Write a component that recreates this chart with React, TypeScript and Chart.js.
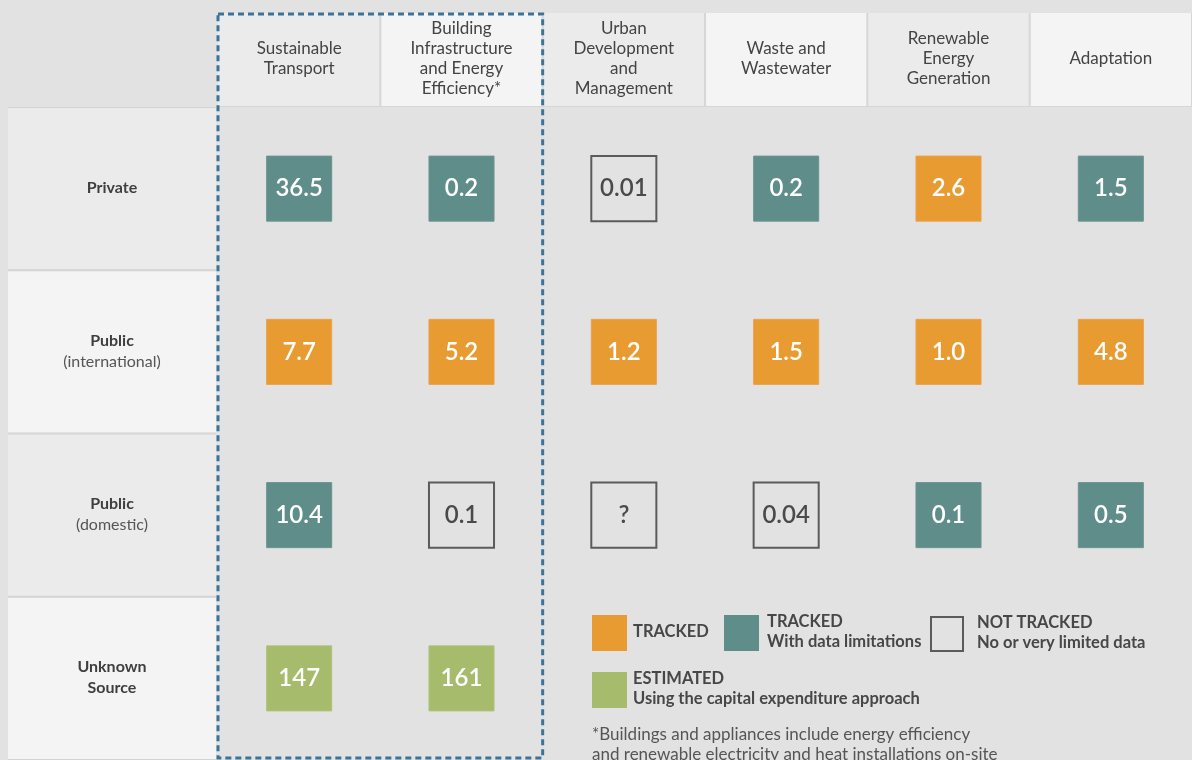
import React, { useEffect, useRef } from "react";
import { Chart, registerables } from "chart.js";
Chart.register(...registerables);

// ---- data ----
const categories: string[][] = [
  ["Sustainable", "Transport"],
  ["Building", "Infrastructure", "and Energy", "Efficiency*"],
  ["Urban", "Development", "and", "Management"],
  ["Waste and", "Wastewater"],
  ["Renewable", "Energy", "Generation"],
  ["Adaptation"],
];
const sourceTitles: string[][] = [["Private"], ["Public"], ["Public"], ["Unknown", "Source"]];
const sourceSubtitles: string[][] = [[], ["(international)"], ["(domestic)"], []];

const privateValues = ["36.5", "0.2", "0.01", "0.2", "2.6", "1.5"];
const privateStatus = ["L", "L", "N", "L", "T", "L"];
const publicIntlValues = ["7.7", "5.2", "1.2", "1.5", "1.0", "4.8"];
const publicIntlStatus = ["T", "T", "T", "T", "T", "T"];
const publicDomValues = ["10.4", "0.1", "?", "0.04", "0.1", "0.5"];
const publicDomStatus = ["L", "N", "N", "N", "L", "L"];
const unknownValues = ["147", "161", null, null, null, null];
const unknownStatus = ["E", "E", null, null, null, null];

const legendKeys = ["T", "L", "N", "E"];
const legendTitles = ["TRACKED", "TRACKED", "NOT TRACKED", "ESTIMATED"];
const legendSubtitles = ["", "With data limitations", "No or very limited data", "Using the capital expenditure approach"];
const footnoteLines = [
  "*Buildings and appliances include energy efficiency",
  "and renewable electricity and heat installations on-site",
];

// ---- styles ----
const FILL: Record<string, string> = { T: "#e89b30", L: "#5f8d89", E: "#a6bb6b", N: "rgba(0,0,0,0)" };
const STROKE: Record<string, string> = { T: "#eba24a", L: "#6b9692", E: "#b0c27a", N: "#5b5b5b" };
const BG = "#e2e2e2";
const FONT = "Lato, 'Open Sans', sans-serif";

const allValues = [privateValues, publicIntlValues, publicDomValues, unknownValues];
const allStatus = [privateStatus, publicIntlStatus, publicDomStatus, unknownStatus];

type Pt = { x: number; y: number; v: string; s: string };
const points: Pt[] = [];
allValues.forEach((row, r) =>
  row.forEach((v, c) => {
    const s = allStatus[r][c];
    if (v !== null && s !== null) points.push({ x: c, y: r, v: v as string, s: s as string });
  })
);

const gridPlugin = {
  id: "gridPlugin",
  beforeDatasetsDraw(chart: any) {
    const { ctx, scales } = chart;
    const xs = scales.x;
    const ys = scales.y;
    ctx.save();
    ctx.fillStyle = BG;
    ctx.fillRect(0, 0, chart.width, chart.height);
    const headTop = 13;
    const headBottom = ys.getPixelForValue(-0.5);
    // header cells
    categories.forEach((lines, i) => {
      const l = xs.getPixelForValue(i - 0.5);
      const r = xs.getPixelForValue(i + 0.5);
      ctx.fillStyle = "#d6d6d6";
      ctx.fillRect(l, headTop, r - l, headBottom - headTop);
      ctx.fillStyle = i % 2 === 0 ? "#ebebeb" : "#f4f4f4";
      ctx.fillRect(l + (i === 0 ? 0 : 1), headTop, r - l - (i === 0 ? 1 : 2), headBottom - headTop - 1);
      ctx.fillStyle = "#444";
      ctx.font = `17px ${FONT}`;
      ctx.textAlign = "center";
      ctx.textBaseline = "middle";
      const cx = (l + r) / 2;
      const cy = (headTop + headBottom) / 2 - 1;
      lines.forEach((t, k) => {
        ctx.fillText(t, cx, cy + (k - (lines.length - 1) / 2) * 20);
      });
    });
    // row label cells
    const rl = 8;
    const rr = xs.getPixelForValue(-0.5) - 2;
    sourceTitles.forEach((titles, r) => {
      const t = ys.getPixelForValue(r - 0.5);
      const b = ys.getPixelForValue(r + 0.5);
      ctx.fillStyle = "#d2d2d2";
      ctx.fillRect(rl, t, rr - rl, b - t);
      ctx.fillStyle = r % 2 === 0 ? "#ebebeb" : "#f4f4f4";
      ctx.fillRect(rl, t + 1, rr - rl, b - t - 2);
      const lines = [...titles.map((s) => ({ s, bold: true })), ...sourceSubtitles[r].map((s) => ({ s, bold: false }))];
      const cx = (rl + rr) / 2;
      const cy = ys.getPixelForValue(r) - 1;
      ctx.textAlign = "center";
      ctx.textBaseline = "middle";
      lines.forEach((ln, k) => {
        ctx.font = `${ln.bold ? "bold " : ""}16px ${FONT}`;
        ctx.fillStyle = ln.bold ? "#3f3f3f" : "#555";
        ctx.fillText(ln.s, cx, cy + (k - (lines.length - 1) / 2) * 21);
      });
    });
    ctx.restore();
  },
  afterDatasetsDraw(chart: any) {
    const { ctx, scales } = chart;
    const xs = scales.x;
    const meta = chart.getDatasetMeta(0);
    ctx.save();
    ctx.textAlign = "center";
    ctx.textBaseline = "middle";
    ctx.font = `600 24px ${FONT}`;
    meta.data.forEach((el: any, i: number) => {
      const p = points[i];
      ctx.fillStyle = p.s === "N" ? "#4a4a4a" : "#ffffff";
      ctx.fillText(p.v, el.x, el.y);
    });
    // dashed highlight
    const dl = xs.getPixelForValue(-0.5);
    const dr = xs.getPixelForValue(1.5);
    ctx.strokeStyle = "#3b7399";
    ctx.lineWidth = 3;
    ctx.setLineDash([6, 4]);
    ctx.strokeRect(dl, 14, dr - dl, 744);
    ctx.setLineDash([]);
    // legend
    const slots = [
      { x: 592, y: 615 },
      { x: 724, y: 615 },
      { x: 930, y: 616 },
      { x: 592, y: 672 },
    ];
    legendKeys.forEach((k, i) => {
      const { x, y } = slots[i];
      if (k === "N") {
        ctx.strokeStyle = STROKE.N;
        ctx.lineWidth = 2;
        ctx.strokeRect(x + 1, y + 1, 32, 34);
      } else {
        ctx.fillStyle = FILL[k];
        ctx.fillRect(x, y, 35, 36);
      }
      const tx = x + (k === "N" ? 47 : k === "L" ? 43 : 41);
      ctx.textAlign = "left";
      ctx.textBaseline = "middle";
      ctx.fillStyle = "#474747";
      ctx.font = `bold 16.5px ${FONT}`;
      if (legendSubtitles[i]) {
        ctx.fillText(legendTitles[i], tx, y + 7);
        ctx.fillText(legendSubtitles[i], tx, y + 27);
      } else {
        ctx.fillText(legendTitles[i], tx, y + 17);
      }
    });
    ctx.font = `17px ${FONT}`;
    ctx.fillStyle = "#555";
    footnoteLines.forEach((t, i) => ctx.fillText(t, 592, 735 + i * 20));
    ctx.restore();
  },
};

export default function App() {
  const ref = useRef<HTMLCanvasElement>(null);
  useEffect(() => {
    if (!ref.current) return;
    const chart = new Chart(ref.current, {
      type: "scatter",
      data: {
        datasets: [
          {
            data: points as any,
            pointStyle: "rect",
            pointRadius: 46,
            pointHoverRadius: 46,
            backgroundColor: points.map((p) => FILL[p.s]),
            borderColor: points.map((p) => STROKE[p.s]),
            borderWidth: points.map((p) => (p.s === "N" ? 2 : 1)),
            clip: false as any,
          },
        ],
      },
      options: {
        animation: false,
        responsive: false,
        events: [],
        layout: { autoPadding: false, padding: { left: 218, top: 107, right: 0, bottom: 0 } },
        plugins: { legend: { display: false }, tooltip: { enabled: false } },
        scales: {
          x: { type: "linear", min: -0.5, max: 5.5, display: false },
          y: { type: "linear", min: -0.5, max: 3.5, reverse: true, display: false },
        },
      },
      plugins: [gridPlugin],
    });
    return () => chart.destroy();
  }, []);
  return (
    <div style={{ position: "fixed", left: 0, top: 0, width: 1192, height: 760, background: BG }}>
      <canvas ref={ref} width={1192} height={760} style={{ display: "block" }} />
    </div>
  );
}
